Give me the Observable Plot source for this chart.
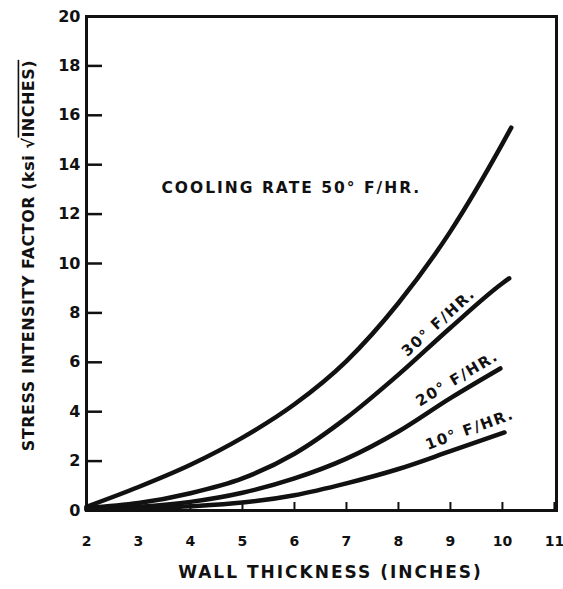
<!DOCTYPE html>
<html><head><meta charset="utf-8">
<script src="https://cdn.jsdelivr.net/npm/d3@7"></script>
<script src="https://cdn.jsdelivr.net/npm/@observablehq/plot@0.6"></script>
<style>
body{margin:0;background:#fff}
.lbl text{letter-spacing:2px}
.rlbl text{letter-spacing:1.5px}
.xtitle text{letter-spacing:2px}
.ytitle text{letter-spacing:0.5px}
</style>
</head><body><div id="chart"></div>
<script>
// Wall thickness (inches) and stress intensity factor (ksi·√in) per cooling rate
const x50 = [2, 3, 4, 5, 6, 7, 8, 9, 10, 10.17];
const k50 = [0.15, 0.95, 1.85, 2.95, 4.3, 6.05, 8.4, 11.3, 14.85, 15.5];
const x30 = [2, 3, 4, 5, 6, 7, 8, 9, 10, 10.13];
const k30 = [0.1, 0.3, 0.7, 1.3, 2.3, 3.75, 5.5, 7.4, 9.2, 9.4];
const x20 = [2, 3, 4, 5, 6, 7, 8, 9, 9.96];
const k20 = [0.05, 0.15, 0.35, 0.72, 1.3, 2.1, 3.2, 4.55, 5.75];
const x10 = [2, 3, 4, 5, 6, 7, 8, 9, 10.04];
const k10 = [0.03, 0.08, 0.17, 0.32, 0.62, 1.1, 1.68, 2.4, 3.16];

const xTicks = [2, 3, 4, 5, 6, 7, 8, 9, 10, 11];
const yTicks = [0, 2, 4, 6, 8, 10, 12, 14, 16, 18, 20];

const mainLabel = "COOLING RATE 50° F/HR.";
const mainLabelX = 5.94, mainLabelY = 13.04;
const rateText = ["30° F/HR.", "20° F/HR.", "10° F/HR."];
const rateX = [8.77, 9.13, 9.37];
const rateY = [7.61, 5.34, 3.28];
const rateAngle = [-42, -31, -20];

const xTitle = "WALL THICKNESS (INCHES)";
const yTitle = "STRESS INTENSITY FACTOR (ksi √INCHES)";

const series = [[x50, k50, "50"], [x30, k30, "30"], [x20, k20, "20"], [x10, k10, "10"]];
const curves = series.flatMap(([xs, ks, r]) => xs.map((x, i) => ({x, k: ks[i], rate: r})));
const rates = rateText.map((t, i) => ({t, x: rateX[i], y: rateY[i], a: rateAngle[i]}));

const W = 563, H = 589, ML = 86, MR = 7, MT = 16, MB = 79;
const frameW = W - ML - MR, frameH = H - MT - MB;

const plot = Plot.plot({
  width: W, height: H,
  marginLeft: ML, marginRight: MR, marginTop: MT, marginBottom: MB,
  style: {fontFamily: "'DejaVu Sans', sans-serif", fontWeight: "bold", color: "#111", background: "#fff"},
  x: {domain: [2, 11.04]},
  y: {domain: [0, 20]},
  marks: [
    Plot.axisY({ticks: yTicks, tickSize: 0, tickPadding: 6, fontSize: 16, label: null, tickFormat: d => String(d)}),
    Plot.axisX({ticks: xTicks, tickSize: 0, tickPadding: 26, fontSize: 14, label: null, tickFormat: d => String(d)}),
    Plot.tickY(yTicks, {y: d => d, insetRight: frameW - 16, stroke: "#111", strokeWidth: 2.5}),
    Plot.tickX(xTicks, {x: d => d, insetTop: frameH - 8, stroke: "#111", strokeWidth: 2}),
    Plot.frame({stroke: "#111", strokeWidth: 3}),
    Plot.line(curves, {x: "x", y: "k", z: "rate", curve: "monotone-x", stroke: "#111", strokeWidth: 4.5, strokeLinecap: "round"}),
    Plot.text([mainLabel], {x: () => mainLabelX, y: () => mainLabelY, fontSize: 15.5, fill: "#111", className: "lbl"}),
    Plot.text(rates, {x: "x", y: "y", text: "t", rotate: "a", fontSize: 15, fill: "#111", className: "rlbl"}),
    Plot.text([xTitle], {frameAnchor: "bottom", dx: 9, dy: 67, fontSize: 17, fill: "#111", className: "xtitle"}),
    Plot.text([yTitle], {frameAnchor: "left", textAnchor: "middle", lineAnchor: "middle", dx: -58, dy: -8, rotate: -90, fontSize: 16, fill: "#111", className: "ytitle"})
  ]
});
document.getElementById("chart").appendChild(plot);
// overline (vinculum) above the radicand of the y title
const yt = d3.select(plot).select(".ytitle text");
if (!yt.empty()) {
  const full = yt.text();
  const idx = full.indexOf("√") + 1;
  yt.text(null);
  yt.append("tspan").text(full.slice(0, idx));
  yt.append("tspan").style("text-decoration", "overline").text(full.slice(idx));
}
</script>
</body></html>
